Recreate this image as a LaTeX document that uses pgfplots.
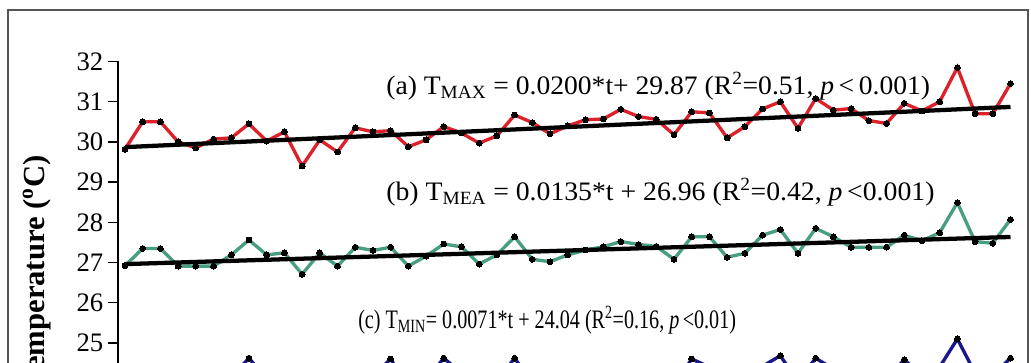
\documentclass[border=0pt]{standalone}
\usepackage{pgfplots}
\usepackage{pgfplotstable}
\pgfplotsset{compat=1.18}
\usepackage{fontspec}
\setmainfont{Liberation Serif}
\definecolor{cred}{RGB}{222,32,42}
\definecolor{cgreen}{RGB}{72,158,128}
\definecolor{cblue}{RGB}{24,24,140}
\definecolor{frame}{RGB}{85,85,85}

\pgfplotstableread{
t tmax tmea tmin
0 29.82 26.92 23.98
1 30.50 27.35 24.30
2 30.50 27.35 24.28
3 30.00 26.91 23.95
4 29.85 26.91 23.92
5 30.07 26.91 23.90
6 30.10 27.19 24.15
7 30.45 27.56 24.62
8 30.02 27.19 24.10
9 30.25 27.24 24.15
10 29.40 26.71 23.70
11 30.05 27.24 24.12
12 29.75 26.91 23.85
13 30.35 27.38 24.25
14 30.25 27.30 24.18
15 30.28 27.38 24.60
16 29.88 26.91 23.90
17 30.05 27.16 24.08
18 30.38 27.46 24.62
19 30.22 27.39 24.25
20 29.97 26.96 23.90
21 30.15 27.19 24.05
22 30.67 27.64 24.62
23 30.48 27.08 24.00
24 30.20 27.02 23.92
25 30.40 27.19 24.05
26 30.55 27.31 24.20
27 30.57 27.39 24.25
28 30.81 27.52 24.35
29 30.63 27.45 24.28
30 30.56 27.40 24.22
31 30.18 27.08 23.95
32 30.75 27.64 24.60
33 30.72 27.64 24.40
34 30.10 27.13 23.98
35 30.38 27.23 24.05
36 30.82 27.68 24.42
37 31.00 27.82 24.68
38 30.34 27.23 24.05
39 31.08 27.85 24.62
40 30.79 27.64 24.35
41 30.83 27.38 24.10
42 30.53 27.38 24.10
43 30.46 27.38 24.12
44 30.96 27.68 24.58
45 30.77 27.54 24.20
46 31.00 27.74 24.40
47 31.85 28.49 25.10
48 30.70 27.52 24.25
49 30.70 27.48 24.20
50 31.45 28.07 24.62
}\datatable

\begin{document}
\begin{tikzpicture}
\useasboundingbox (0,0) rectangle (773.25pt,-272.25pt);
\clip (0,0) rectangle (773.25pt,-272.25pt);
\fill[white] (0,0) rectangle (773.25pt,-272.25pt);
\draw[line width=1pt, draw=frame] (6pt,-7.5pt) rectangle (771pt,-300pt);
\node[rotate=90, font=\fontsize{23}{26}\selectfont\bfseries, inner sep=0pt] at (27.75pt,-203.6pt) {Temperature (\textsuperscript{o}C)};
\begin{axis}[
  at={(88.5pt,-317.475pt)}, anchor=south west,
  scale only axis, width=682.65pt, height=271.35pt,
  xmin=-0.395, xmax=51, ymin=23, ymax=32,
  axis x line=none, axis y line*=left,
  y axis line style={line width=1pt, black, -},
  ytick={25,...,32},
  tick align=outside,
  major tick length=7.5pt,
  tick style={line width=1pt, black},
  yticklabel style={font=\fontsize{20}{24}\selectfont, /pgf/number format/assume math mode=true},
  clip=true,
]
\addplot[cred, line width=2.5pt, mark=*, mark size=2.2pt, mark options={black, fill=black, line width=0pt}] table[x=t, y=tmax] {\datatable};
\addplot[black, line width=3.2pt] coordinates {(0,29.87) (50,30.87)};
\addplot[cgreen, line width=2.5pt, mark=*, mark size=2.2pt, mark options={black, fill=black, line width=0pt}] table[x=t, y=tmea] {\datatable};
\addplot[black, line width=3.2pt] coordinates {(0,26.96) (50,27.635)};
\addplot[cblue, line width=2.5pt, mark=*, mark size=2.2pt, mark options={black, fill=black, line width=0pt}] table[x=t, y=tmin] {\datatable};
\addplot[black, line width=3.2pt] coordinates {(0,24.04) (50,24.395)};
\node[anchor=west, font=\fontsize{20}{24}\selectfont, inner sep=0pt, xscale=1.035] at (axis cs:14.74,31.39) {(a) T\textsubscript{MAX} = 0.0200*t+ 29.87 (R\textsuperscript{2}=0.51, \textit{p}\,<\,0.001)};
\node[anchor=west, font=\fontsize{20}{24}\selectfont, inner sep=0pt, xscale=1.04] at (axis cs:14.74,28.75) {(b) T\textsubscript{MEA} = 0.0135*t + 26.96 (R\textsuperscript{2}=0.42, \textit{p}\,<0.001)};
\node[anchor=west, font=\fontsize{20}{24}\selectfont, inner sep=0pt, xscale=0.755] at (axis cs:13.16,25.57) {(c) T\textsubscript{MIN}= 0.0071*t + 24.04 (R\textsuperscript{2}=0.16, \textit{p}\,<0.01)};
\end{axis}
\end{tikzpicture}
\end{document}
